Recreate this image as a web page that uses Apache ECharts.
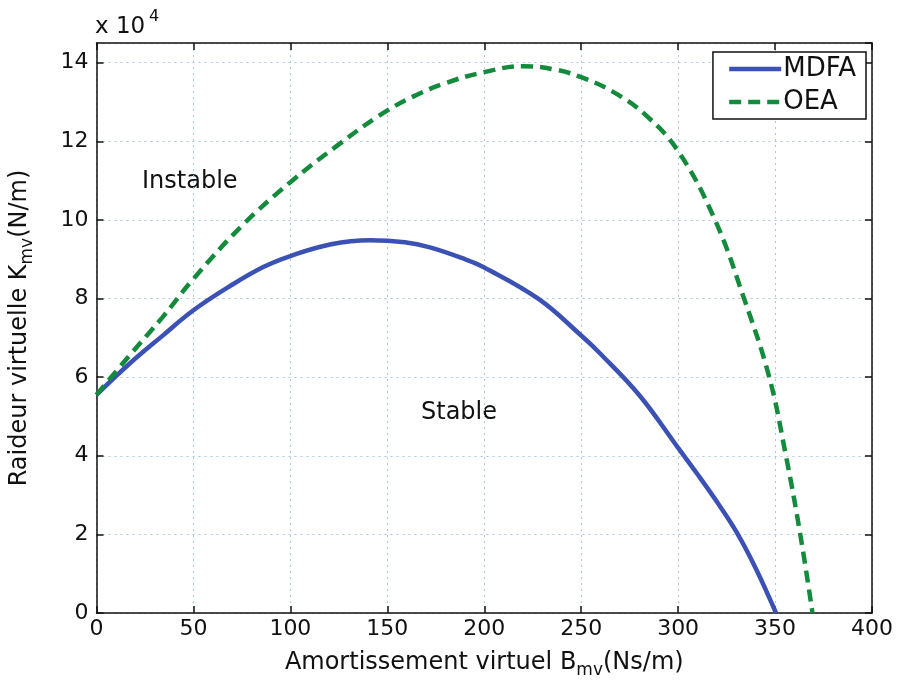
<!DOCTYPE html>
<html>
<head>
<meta charset="utf-8">
<script src="https://cdn.jsdelivr.net/npm/echarts@6/dist/echarts.min.js"></script>
<style>html,body{margin:0;padding:0;background:#fff}#c{width:901px;height:684px}</style>
</head>
<body>
<div id="c"></div>
<script>
// Data (K in units of 1e4 N/m, B in Ns/m)
const mdfaB = [0, 17, 34, 50, 69, 86, 100, 121, 141, 159, 172, 190, 200, 228, 250, 259, 280, 300, 310, 320, 330, 340, 350.5];
const mdfaK = [5.55, 6.34, 7.05, 7.7, 8.32, 8.8, 9.08, 9.38, 9.48, 9.43, 9.3, 9.0, 8.79, 7.99, 7.06, 6.64, 5.54, 4.2, 3.53, 2.83, 2.07, 1.14, 0];
const oeaB = [0, 17, 34, 50, 75, 100, 125, 146, 163, 180, 200, 220, 237, 250, 266, 283, 300, 319, 334, 347, 355.6, 363, 369.3];
const oeaK = [5.55, 6.55, 7.52, 8.5, 9.85, 10.96, 11.92, 12.66, 13.13, 13.48, 13.76, 13.91, 13.82, 13.63, 13.27, 12.68, 11.75, 10, 8, 6, 4, 2, 0];
const xTicks = [0, 50, 100, 150, 200, 250, 300, 350, 400];
const yTicks = [0, 2, 4, 6, 8, 10, 12, 14];

const font = 'DejaVu Sans, sans-serif';
const chart = echarts.init(document.getElementById('c'));
const gridLine = {show: true, lineStyle: {color: '#a9c9d8', type: [2, 4], width: 1}};
const black = '#111';
const axisCommon = {
  axisLine: {show: true, onZero: false, lineStyle: {color: black, width: 1.5}},
  axisTick: {show: true, inside: true, length: 7, lineStyle: {color: black, width: 1.5}}
};
chart.setOption({
  animation: false,
  backgroundColor: '#fff',
  grid: {left: 96, top: 43, right: 29, bottom: 69},
  legend: {
    orient: 'vertical', right: 35, top: 52, itemWidth: 52, itemHeight: 16, itemGap: 7,
    backgroundColor: '#fff', borderColor: black, borderWidth: 1.5, padding: [4, 10, 4, 14],
    itemStyle: {opacity: 0},
    lineStyle: {width: 4.5},
    textStyle: {fontFamily: font, fontSize: 26, color: black, padding: [0, 0, 0, -3]},
    data: ['MDFA', 'OEA']
  },
  xAxis: [Object.assign({
    type: 'value', min: 0, max: 400, interval: 50,
    name: 'Amortissement virtuel B{sub|mv}(Ns/m)', nameLocation: 'middle', nameGap: 33,
    nameTextStyle: {fontFamily: font, fontSize: 24, color: black,
      rich: {sub: {fontSize: 17, verticalAlign: 'bottom', padding: [16, 0, 0, 0], fontFamily: font, color: black}}},
    axisLabel: {fontFamily: font, fontSize: 22, color: black, margin: 5,
      formatter: v => xTicks.indexOf(v) >= 0 ? String(v) : ''},
    splitLine: gridLine
  }, axisCommon), Object.assign({
    type: 'value', min: 0, max: 400, interval: 50, position: 'top',
    axisLabel: {show: false}, splitLine: {show: false}
  }, axisCommon)],
  yAxis: [Object.assign({
    type: 'value', min: 0, max: 14.5, interval: 2,
    name: 'Raideur virtuelle K{sub|mv}(N/m)', nameLocation: 'middle', nameGap: 60, nameRotate: 90,
    nameTextStyle: {fontFamily: font, fontSize: 24, color: black,
      rich: {sub: {fontSize: 17, verticalAlign: 'bottom', padding: [16, 0, 0, 0], fontFamily: font, color: black}}},
    axisLabel: {fontFamily: font, fontSize: 22, color: black, margin: 8, showMaxLabel: false,
      formatter: v => yTicks.indexOf(v) >= 0 ? String(v) : ''},
    splitLine: gridLine
  }, axisCommon), Object.assign({
    type: 'value', min: 0, max: 14.5, interval: 2, position: 'right',
    axisLabel: {show: false}, splitLine: {show: false}
  }, axisCommon)],
  graphic: [
    {type: 'text', left: 95, top: 16, style: {text: 'x 10', fontSize: 23, fontFamily: font, fill: black}},
    {type: 'text', left: 149, top: 9, style: {text: '4', fontSize: 16, fontFamily: font, fill: black}},
    {type: 'text', left: 142, top: 170, style: {text: 'Instable', fontSize: 24, fontFamily: font, fill: black}},
    {type: 'text', left: 421, top: 401, style: {text: 'Stable', fontSize: 24, fontFamily: font, fill: black}}
  ],
  series: [{
    name: 'MDFA', type: 'line', smooth: 0.4, symbol: 'none',
    data: mdfaB.map((b, i) => [b, mdfaK[i]]),
    lineStyle: {color: '#3b52b4', width: 4.5}, itemStyle: {color: '#3b52b4'}
  }, {
    name: 'OEA', type: 'line', smooth: 0.4, symbol: 'none',
    data: oeaB.map((b, i) => [b, oeaK[i]]),
    lineStyle: {color: '#148a3c', width: 4.5, type: [12, 7]}, itemStyle: {color: '#148a3c'}
  }]
});
</script>
</body>
</html>
